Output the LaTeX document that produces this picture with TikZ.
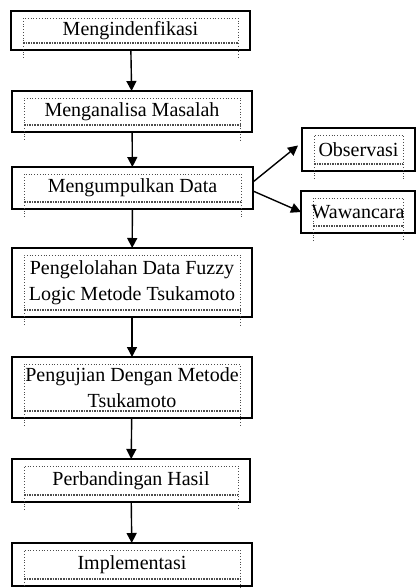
\documentclass[tikz,border=0pt]{standalone}
\usepackage{fontspec}
\setmainfont{Liberation Serif}
\usepackage{tikz}
\usetikzlibrary{arrows.meta, positioning, calc}

\tikzset{
  stepbox/.style={draw, line width=1.4pt, align=center, inner sep=0pt, outer sep=0pt,
    font=\fontsize{20}{26}\selectfont},
  flow/.style={line width=1.4pt, -{Triangle[length=10pt, width=10pt]}},
  txframe/.style={dotted, line width=0.8pt, gray!60!black},
}

\begin{document}
\begin{tikzpicture}[x=1pt, y=-1pt]
  \useasboundingbox (0,0) rectangle (416,588);
  % main steps
  \node[stepbox, minimum width=239, minimum height=39] (ident) at (130.5,30.5) {Mengindenfikasi};
  \node[stepbox, minimum width=240, minimum height=41] (analisa) at (132,111.5) {Menganalisa Masalah};
  \node[stepbox, minimum width=241, minimum height=42] (kumpul) at (132.5,188) {Mengumpulkan Data};
  \node[stepbox, minimum width=240, minimum height=69] (olah) at (132,282.5) {Pengelolahan Data Fuzzy\\Logic Metode Tsukamoto};
  \node[stepbox, minimum width=240, minimum height=61] (uji) at (132,387.5) {Pengujian Dengan Metode\\Tsukamoto};
  \node[stepbox, minimum width=238, minimum height=43] (banding) at (131,480.5) {Perbandingan Hasil};
  \node[stepbox, minimum width=240, minimum height=43] (impl) at (132,564.5) {Implementasi};
  % data sources
  \node[stepbox, minimum width=113, minimum height=43] (obs) at (358.5,149.5) {Observasi};
  \node[stepbox, minimum width=114, minimum height=42] (waw) at (358,212) {Wawancara};
  % text frames
  \foreach \b in {ident, analisa, kumpul, olah, uji, banding, impl, obs, waw} {
    \draw[txframe] ($(\b.south west)+(12,8)$) -- ($(\b.north west)+(12,7)$)
      -- ($(\b.north east)+(-12,7)$) -- ($(\b.south east)+(-12,8)$);
    \draw[txframe, line width=1.6pt, densely dotted] ($(\b.south west)+(12,-7)$) -- ($(\b.south east)+(-12,-7)$);
  }
  % connectors
  \draw[flow] (ident) -- (analisa);
  \draw[flow] (analisa) -- (kumpul);
  \draw[flow] (kumpul) -- (olah);
  \draw[flow] (olah) -- (uji);
  \draw[flow] (uji) -- (banding);
  \draw[flow] (banding) -- (impl);
  \draw[flow] ($(kumpul.east)+(0,-6)$) -- ($(obs.west)+(-4,-4)$);
  \draw[flow] ($(kumpul.east)+(0,3)$) -- (waw.west);
\end{tikzpicture}
\end{document}
